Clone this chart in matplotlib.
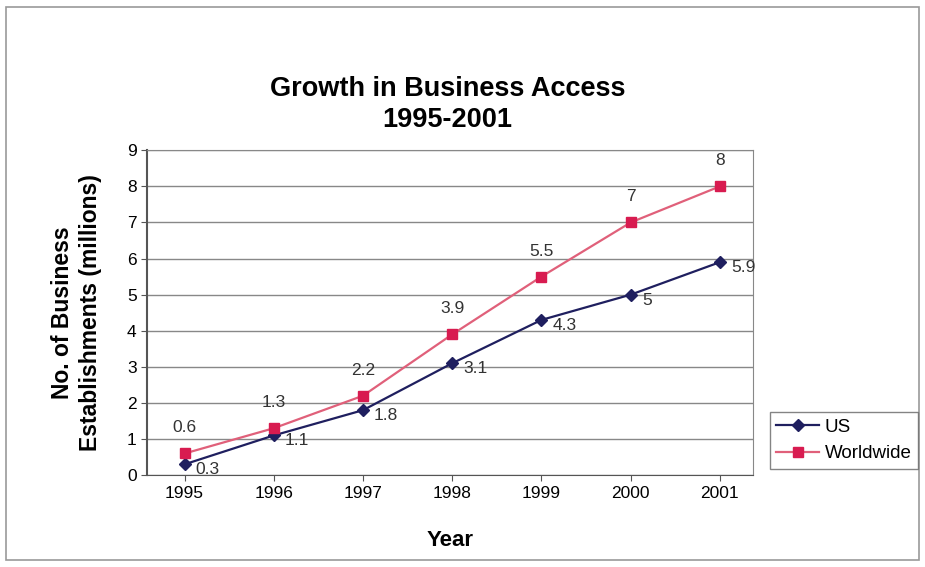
import numpy as np
import matplotlib.pyplot as plt
from matplotlib.patches import Rectangle

years = ['1995', '1996', '1997', '1998', '1999', '2000', '2001']
us = [0.3, 1.1, 1.8, 3.1, 4.3, 5, 5.9]
worldwide = [0.6, 1.3, 2.2, 3.9, 5.5, 7, 8]

plt.rcParams['font.family'] = ['Liberation Sans', 'DejaVu Sans']

fig = plt.figure(figsize=(9.25, 5.67), dpi=100)
fig.patches.append(Rectangle((0.006, 0.012), 0.988, 0.976, transform=fig.transFigure,
                             fill=False, edgecolor='#999999', linewidth=1.2))
ax = fig.add_axes([0.159, 0.162, 0.655, 0.573])

x = np.arange(len(years))
ax.plot(x, us, color='#1f1f5f', marker='D', markersize=6, linewidth=1.6, label='US')
ax.plot(x, worldwide, color='#e0607a', marker='s', markersize=7,
        markerfacecolor='#d81b50', markeredgecolor='#d81b50', linewidth=1.6, label='Worldwide')

for i in range(len(x)):
    ax.annotate('%g' % us[i], (x[i], us[i]), xytext=(8, -4), textcoords='offset points',
                ha='left', va='center', fontsize=12.5, color='#333333')
    ax.annotate('%g' % worldwide[i], (x[i], worldwide[i]), xytext=(0, 13), textcoords='offset points',
                ha='center', va='bottom', fontsize=12.5, color='#333333')

ax.set_xlim(-0.42, 6.37)
ax.set_ylim(0, 9)
ax.set_yticks(range(0, 10))
ax.set_xticks(x)
ax.set_xticklabels(years)
ax.tick_params(labelsize=12.5, length=4, color='#555555')
ax.yaxis.grid(True, color='#888888', linewidth=1)
ax.set_axisbelow(True)
for s in ['top', 'right']:
    ax.spines[s].set_color('#888888')
ax.spines['left'].set_color('#555555')
ax.spines['bottom'].set_color('#555555')
ax.spines['left'].set_linewidth(1.5)

ax.set_xlabel('Year', fontsize=16, fontweight='bold', labelpad=21)
ax.set_ylabel('No. of Business\nEstablishments (millions)', fontsize=16.5, fontweight='bold',
              labelpad=18, linespacing=1.25)
fig.text(0.484, 0.815, 'Growth in Business Access\n1995-2001', ha='center', va='center',
         fontsize=19.5, fontweight='bold', linespacing=1.25)

fig.legend(loc='upper left', bbox_to_anchor=(0.832, 0.273), fontsize=13.5, frameon=True,
           fancybox=False, edgecolor='#666666', handlelength=2.3, borderpad=0.35,
           labelspacing=0.5, handletextpad=0.3, borderaxespad=0)

fig.savefig('out.png', dpi=100)
